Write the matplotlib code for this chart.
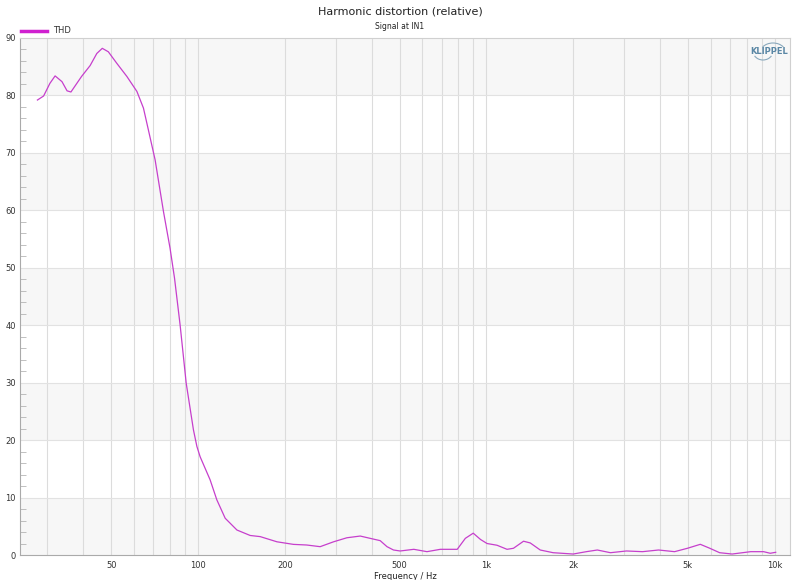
import numpy as np
import matplotlib
matplotlib.use("Agg")
import matplotlib.pyplot as plt
from matplotlib.patches import Arc
from matplotlib.ticker import FixedLocator, NullFormatter, MultipleLocator

# THD curve (Hz, %)
freq = [27.7, 29.1, 30.6, 31.9, 33.7, 35.1, 36.2, 39.4, 42.2, 44.5, 46.5, 48.8,
        52.2, 56.6, 61.3, 64.6, 67.2, 70.9, 75.8, 79.9, 82.8, 86.6, 90.9, 96.3,
        99.0, 101.6, 110, 116.1, 124.1, 136.3, 151.5, 164.2, 187.6, 214, 238,
        265, 295, 328, 365, 395, 428, 452, 476, 502, 560, 622, 692, 792, 845,
        900, 954, 1005, 1088, 1179, 1241, 1345, 1419, 1537, 1704, 2000, 2222,
        2425, 2693, 3060, 3480, 3955, 4494, 4981, 5520, 5956, 6440, 7118, 8254,
        9150, 9650, 10080]
thd = [79.2, 79.9, 82.1, 83.4, 82.4, 80.8, 80.6, 83.3, 85.2, 87.3, 88.2, 87.6,
       85.6, 83.3, 80.7, 77.8, 74.0, 68.8, 59.8, 53.4, 48.2, 40.0, 29.9, 21.8,
       18.9, 17.1, 13.1, 9.6, 6.4, 4.35, 3.4, 3.2, 2.3, 1.85, 1.74,
       1.45, 2.3, 3.0, 3.3, 2.9, 2.5, 1.45, 0.87, 0.7, 0.99, 0.58, 0.99, 0.99, 2.9,
       3.8, 2.7, 2.0, 1.7, 0.99, 1.17, 2.4, 2.1, 0.87, 0.4, 0.17, 0.58,
       0.87, 0.4, 0.7, 0.58, 0.87, 0.58, 1.17, 1.86, 1.17, 0.4, 0.17, 0.58,
       0.58, 0.3, 0.47]

xticks = [50, 100, 200, 500, 1000, 2000, 5000, 10000]
xlabels = ["50", "100", "200", "500", "1k", "2k", "5k", "10k"]
line_color = "#c63fcc"

fig = plt.figure(figsize=(8, 5.8), dpi=100)
ax = fig.add_axes([0.025, 0.0431, 0.9625, 0.8914])
ax.set_xscale("log")
ax.set_xlim(24.1, 11300)
ax.set_ylim(0, 90)

# alternating horizontal bands
for lo in range(0, 90, 20):
    ax.axhspan(lo, lo + 10, color="#f7f7f7", zorder=0, lw=0)

# vertical grid at every 1..9 multiple
grid_x = [m * 10 ** e for e in range(1, 5) for m in range(1, 10)]
grid_x = [g for g in grid_x if 24.1 < g < 11300]
for g in grid_x:
    ax.axvline(g, color="#dcdcdc", lw=0.8, zorder=1)
for yv in range(10, 90, 10):
    ax.axhline(yv, color="#e2e2e2", lw=0.8, zorder=1)

ax.plot(freq, thd, color=line_color, lw=0.9, zorder=3)

ax.xaxis.set_major_locator(FixedLocator(xticks))
ax.set_xticklabels(xlabels)
ax.xaxis.set_minor_formatter(NullFormatter())
ax.xaxis.set_minor_locator(FixedLocator([]))
ax.tick_params(axis="x", length=0, labelsize=6, pad=4, colors="#333333")
ax.yaxis.set_major_locator(MultipleLocator(10))
ax.yaxis.set_minor_locator(MultipleLocator(2))
ax.tick_params(axis="y", which="major", length=0, labelsize=6, pad=3, colors="#333333")
ax.tick_params(axis="y", which="minor", direction="in", length=4, color="#b5b5b5")
for s in ax.spines.values():
    s.set_color("#d0d0d0")
    s.set_linewidth(0.8)
ax.spines["left"].set_color("#aaaaaa")
ax.spines["bottom"].set_color("#aaaaaa")

ax.set_xlabel("Frequency / Hz", fontsize=6, labelpad=2, color="#222222")

fig.text(0.5, 0.988, "Harmonic distortion (relative)", ha="center", va="top",
         fontsize=8, color="#222222")
fig.text(0.5, 0.962, "Signal at IN1", ha="center", va="top", fontsize=5.5,
         color="#222222")

# legend
fig.add_artist(plt.Line2D([0.026, 0.059], [0.947, 0.947], color="#d020d0", lw=2.5))
fig.text(0.066, 0.947, "THD", ha="left", va="center", fontsize=6, color="#333333")

# logo
fig.text(0.962, 0.911, "KLIPPEL", ha="center", va="center", fontsize=6,
         color="#5a87a5", fontweight="bold")
fig.add_artist(Arc((7.73, 5.27), 0.26, 0.2, theta1=30, theta2=150,
                   transform=fig.dpi_scale_trans, color="#8aa9bd", lw=0.8))
fig.add_artist(Arc((7.63, 5.29), 0.2, 0.18, theta1=210, theta2=330,
                   transform=fig.dpi_scale_trans, color="#8aa9bd", lw=0.8))

fig.savefig("out.png", dpi=100)
